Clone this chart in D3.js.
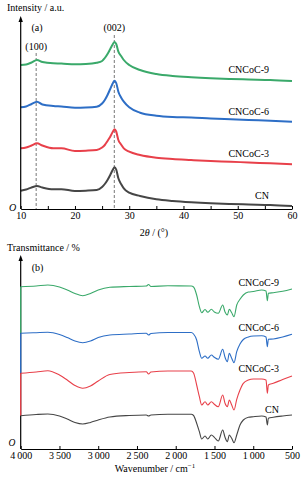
<!DOCTYPE html>
<html><head><meta charset="utf-8">
<script src="https://cdn.jsdelivr.net/npm/d3@7"></script>
<style>
html,body{margin:0;padding:0;background:#fff;}
svg{display:block;}
svg text{font-family:"Liberation Serif","DejaVu Serif","Times New Roman",serif;}
</style></head>
<body><svg id="c" width="307" height="478"></svg>
<script>
// ---------- Panel (a): XRD ----------
const xrdX   = [10,11,12,13,14,16,17.5,20,22,24,25,25.5,26,26.5,27,27.3,27.6,28,28.5,29,30,32,35,38,41.4,45,48.7,52,56,60];
const xrdCN  = [18.3,19.5,21.5,23,21.5,19.7,19.8,18,18.3,19,22,25,29,34,39.5,41.7,39.5,30.7,25,20.7,16.3,13,9.7,8,6.7,5.7,5,4.5,4,3];
const xrdC3  = [60.7,61.5,63.5,65.7,63.5,60.7,60.8,58,58.3,59,61.5,64,68,72.3,77.5,79.7,77.5,69,64.5,60.7,57.3,54,51.3,50,49,48,47.3,46.5,45.7,44.7];
const xrdC6  = [101.7,102.5,105,107.3,104.5,103,102.5,101.3,101.5,102.3,105.5,109,114,120,126,128.3,126,117.3,111.5,107.3,101.7,96.3,93.3,92,91.5,90.5,89.7,89,88.3,87.3];
const xrdC9  = [144,144.5,146.5,149,147,145.7,145.5,144.7,145,146.3,148,151,155,160,165,167,165,157.3,153,149,144,139,135,133,131.7,130.7,130,129.5,129,128];
const xrdTicks = [10,15,20,25,30,35,40,45,50,55,60];
const xrdPeaks = [{pos:12.85,label:"(100)"},{pos:27.25,label:"(002)"}];

// ---------- Panel (b): FTIR ----------
const ftirX  = [4000,3800,3650,3500,3400,3300,3200,3100,3000,2850,2600,2380,2350,2320,2100,1800,1770,1730,1695,1665,1622,1587,1540,1502,1451,1394,1364,1334,1309,1278,1248,1213,1171,1128,1063,999,891,835,818,805,741,620,500];
const ftirC9 = [162.3,163,164,162,159,155.5,153.3,155.5,159,161.7,162.5,163,164.5,162.5,163.2,163,162,154,142.3,136.3,139.5,136.7,139.7,137,135.7,144,137,134,139.7,136.3,132.3,144,149.7,154,157,157.5,159,158,148.3,155.7,156.3,157.7,160];
const ftirC6 = [115.7,116.3,116.7,114.5,111.5,108,106.3,108,111.5,114,115,115.7,114,115.5,116.5,116.5,115,109,97.3,90.7,93,90.7,94,91.7,89.7,99.7,91.7,87.3,95.7,90.7,86.3,97.3,105,109.5,112,113,113.3,112,102.3,109.7,110,112,114.7];
const ftirC3 = [75.7,77,78.3,74,69,63.5,60.7,63,68,74.5,76.5,77.3,75,77,78,78,76,64,52.3,44,47.3,44,47.3,44.7,42.3,54,45.7,42.3,49,44,39,49.7,59,65.7,69,70,70,69,55.7,64,65.7,69.5,73];
const ftirCN = [33.3,34.5,35,33,30,26.5,25,26.5,29,32,33.5,34,33,34,34.7,34.7,33.5,25.7,17.3,10,13,10,14,11.7,8,19,11.7,7.3,14,10.7,6.3,14,24,29,31.7,32.3,33,32,24,30.7,31.7,33,34];
const ftirTicks = [4000,3500,3000,2500,2000,1500,1000,500];

const seriesNames  = ["CNCoC-9","CNCoC-6","CNCoC-3","CN"];
const seriesColors = ["#3aa96a","#2d6ec6","#e8404a","#464646"];

const svg = d3.select("#c");
const FONT = 10;
const FAM = "'Liberation Serif','DejaVu Serif','Times New Roman',serif";

function txt(x,y,s,anchor){
  return svg.append("text").attr("x",x).attr("y",y).attr("font-size",FONT)
    .attr("font-family",FAM).attr("fill","#000").attr("text-anchor",anchor||"start").text(s);
}
function yArrow(x, yTop, yBot){
  svg.append("line").attr("x1",x).attr("x2",x).attr("y1",yTop+4).attr("y2",yBot)
    .attr("stroke","#000").attr("stroke-width",1.2);
  svg.append("path").attr("d",`M${x},${yTop} L${x-2.2},${yTop+6} L${x+2.2},${yTop+6} Z`).attr("fill","#000");
}

// ===== Panel a =====
const xA = d3.scaleLinear().domain([10,60]).range([20.7,292]);
const yA = d3.scaleLinear().domain([0,193]).range([209,16]);
const lineA = d3.line().x((d,i)=>xA(xrdX[i])).y(d=>yA(d)).curve(d3.curveMonotoneX);

const peakTop = {"(100)":53, "(002)":35};
xrdPeaks.forEach(p=>{
  svg.append("line").attr("x1",xA(p.pos)).attr("x2",xA(p.pos))
    .attr("y1",peakTop[p.label]).attr("y2",yA(0))
    .attr("stroke","#555").attr("stroke-width",0.8).attr("stroke-dasharray","3,2");
});

const seriesA = [xrdC9,xrdC6,xrdC3,xrdCN];
seriesA.forEach((s,i)=>{
  svg.append("path").attr("d",lineA(s)).attr("fill","none")
    .attr("stroke",seriesColors[i]).attr("stroke-width",2);
});

const axA = d3.axisBottom(xA).tickValues(xrdTicks).tickSizeInner(-3).tickSizeOuter(0).tickPadding(3)
  .tickFormat(d=> d%10===0 ? d : "");
const gA = svg.append("g").attr("transform",`translate(0,${yA(0)})`).call(axA);
gA.selectAll("path,line").attr("stroke","#000");
gA.selectAll("text").attr("font-size",FONT).attr("fill","#000").attr("font-family",FAM);
yArrow(20.7, 16, yA(0));

txt(7,10.5,"Intensity / a.u.");
txt(37,31,"(a)","middle");
xrdPeaks.forEach(p=>{ txt(xA(p.pos), p.label==="(100)"?50:31, p.label, "middle"); });
txt(12.5,211,"O","middle").attr("font-style","italic");
const tA = txt(154,236,"","middle");
tA.append("tspan").text("2");
tA.append("tspan").attr("font-style","italic").text("θ");
tA.append("tspan").text(" / (°)");

const labelYA = [73.3,115,156.7,199.3];
seriesNames.forEach((n,i)=>{ txt(269,labelYA[i],n,"end"); });

// ===== Panel b =====
const xB = d3.scaleLinear().domain([4000,500]).range([20.7,292]);
const yB = d3.scaleLinear().domain([0,194]).range([449,255]);
const lineB = d3.line().x((d,i)=>xB(ftirX[i])).y(d=>yB(d)).curve(d3.curveMonotoneX);

yArrow(20.7, 255, yB(0));
const seriesB = [ftirC9,ftirC6,ftirC3,ftirCN];
seriesB.forEach((s,i)=>{
  if(i<seriesB.length-1){
    svg.append("line").attr("x1",20.7).attr("x2",20.7).attr("y1",yB(s[0])).attr("y2",yB(seriesB[i+1][0]))
      .attr("stroke",seriesColors[i]).attr("stroke-width",1.3);
  }
});
seriesB.forEach((s,i)=>{
  svg.append("path").attr("d",lineB(s)).attr("fill","none")
    .attr("stroke",seriesColors[i]).attr("stroke-width",1.1);
});

const axB = d3.axisBottom(xB).tickValues(ftirTicks).tickSizeInner(-3).tickSizeOuter(0).tickPadding(3)
  .tickFormat(d=> d>=1000 ? Math.floor(d/1000)+"\u2009"+String(d%1000).padStart(3,"0") : String(d));
const gB = svg.append("g").attr("transform",`translate(0,${yB(0)})`).call(axB);
gB.selectAll("path,line").attr("stroke","#000");
gB.selectAll("text").attr("font-size",FONT).attr("fill","#000").attr("font-family",FAM);

txt(7,251,"Transmittance / %");
txt(37.5,271,"(b)","middle");
txt(12,446,"O","middle").attr("font-style","italic").attr("font-size",9.5);
const tB = txt(155,472,"","middle");
tB.append("tspan").text("Wavenumber / cm");
tB.append("tspan").attr("font-size",7).attr("dy",-4).text("−1");

const labelYB = [286,331,371.7,413.3];
seriesNames.forEach((n,i)=>{ txt(279,labelYB[i],n,"end"); });
</script>
</body></html>
